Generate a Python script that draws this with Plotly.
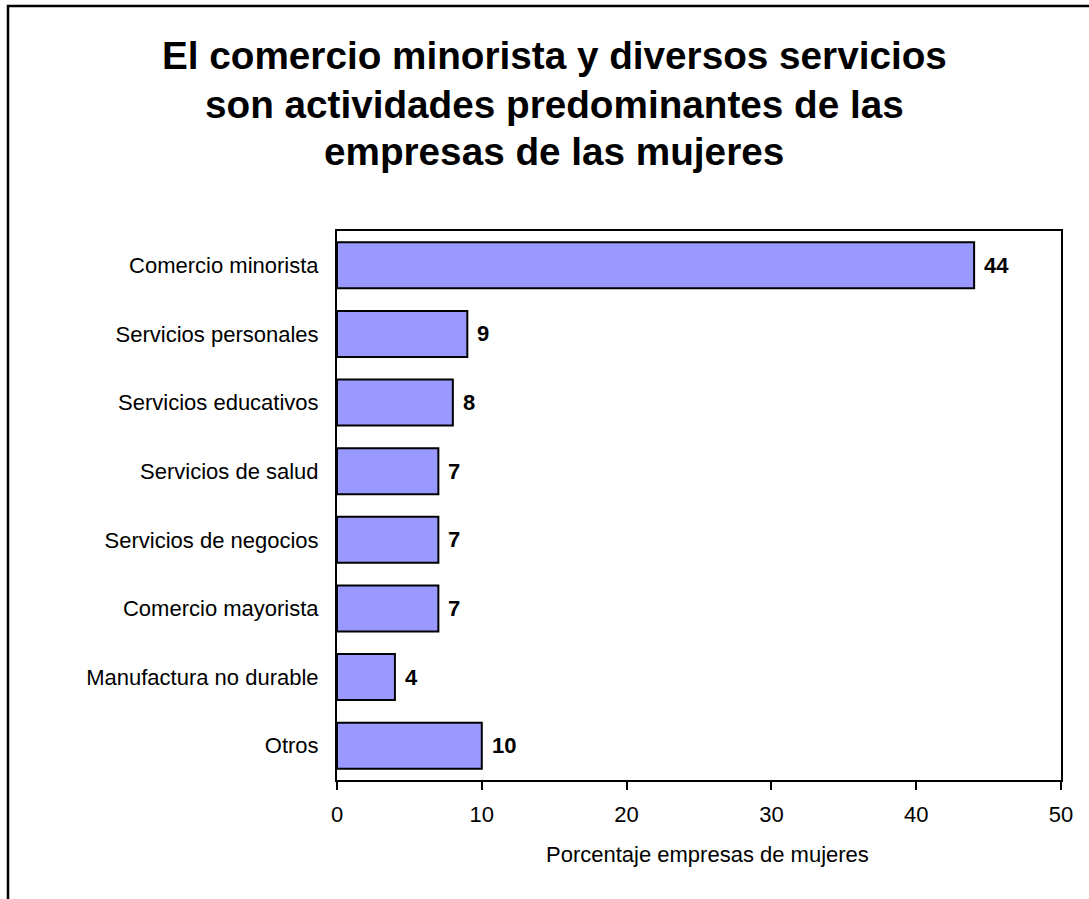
import plotly.graph_objects as go

# Activity categories (top to bottom) and share of women-owned firms (%)
categories = [
    "Comercio minorista",
    "Servicios personales",
    "Servicios educativos",
    "Servicios de salud",
    "Servicios de negocios",
    "Comercio mayorista",
    "Manufactura no durable",
    "Otros",
]
values = [44, 9, 8, 7, 7, 7, 4, 10]

x_ticks = [0, 10, 20, 30, 40, 50]
title_lines = [
    "El comercio minorista y diversos servicios",
    "son actividades predominantes de las",
    "empresas de las mujeres",
]
x_title = "Porcentaje empresas de mujeres"

FONT = "Liberation Sans, Arial, sans-serif"
W, H = 1089, 899
ML, MR, MT, MB = 337, 28, 231, 119
PW, PH = W - ML - MR, H - MT - MB


def px_to_paper_x(px):
    return (px - ML) / PW


def px_to_paper_y(py):
    return (H - MB - py) / PH


fig = go.Figure()
fig.add_trace(
    go.Bar(
        x=values,
        y=categories,
        orientation="h",
        marker=dict(color="#9999FF", line=dict(color="black", width=2)),
        hoverinfo="x+y",
    )
)

annotations = []
# value labels just beyond each bar end
for cat, val in zip(categories, values):
    annotations.append(
        dict(
            x=val, y=cat, xref="x", yref="y",
            text=f"<b>{val}</b>", showarrow=False,
            xanchor="left", yanchor="middle", xshift=8,
            font=dict(family=FONT, size=22, color="black"),
        )
    )

# three-line chart title
for line, cy in zip(title_lines, [56, 105, 152]):
    annotations.append(
        dict(
            x=px_to_paper_x(554), y=px_to_paper_y(cy),
            xref="paper", yref="paper", text=f"<b>{line}</b>",
            showarrow=False, xanchor="center", yanchor="middle",
            font=dict(family=FONT, size=38.7, color="black"),
        )
    )

# x-axis title
annotations.append(
    dict(
        x=px_to_paper_x(707), y=px_to_paper_y(854),
        xref="paper", yref="paper", text=x_title, showarrow=False,
        xanchor="center", yanchor="middle",
        font=dict(family=FONT, size=22, color="black"),
    )
)

fig.update_layout(
    width=W, height=H,
    margin=dict(l=ML, r=MR, t=MT, b=MB, pad=0),
    paper_bgcolor="white", plot_bgcolor="white",
    bargap=0.33,
    showlegend=False,
    font=dict(family=FONT, size=22, color="black"),
    annotations=annotations,
    shapes=[
        # outer chart frame
        dict(
            type="rect", xref="paper", yref="paper",
            x0=px_to_paper_x(8), x1=px_to_paper_x(1110),
            y0=px_to_paper_y(920), y1=px_to_paper_y(6),
            line=dict(color="black", width=2.5), fillcolor="rgba(0,0,0,0)",
            layer="above",
        )
    ],
)

fig.update_xaxes(
    range=[0, 50], tickvals=x_ticks, ticktext=[str(t) for t in x_ticks],
    showgrid=False, zeroline=False,
    showline=True, linecolor="black", linewidth=2, mirror=True,
    ticks="outside", ticklen=8, tickwidth=2, tickcolor="black",
    ticklabelstandoff=6,
    tickfont=dict(family=FONT, size=22, color="black"),
    fixedrange=True,
)
fig.update_yaxes(
    categoryorder="array", categoryarray=categories, autorange="reversed",
    showgrid=False, zeroline=False,
    showline=True, linecolor="black", linewidth=2, mirror=True,
    ticks="", ticklabelstandoff=12,
    tickfont=dict(family=FONT, size=22, color="black"),
    fixedrange=True,
)

fig.write_html("out.html")
